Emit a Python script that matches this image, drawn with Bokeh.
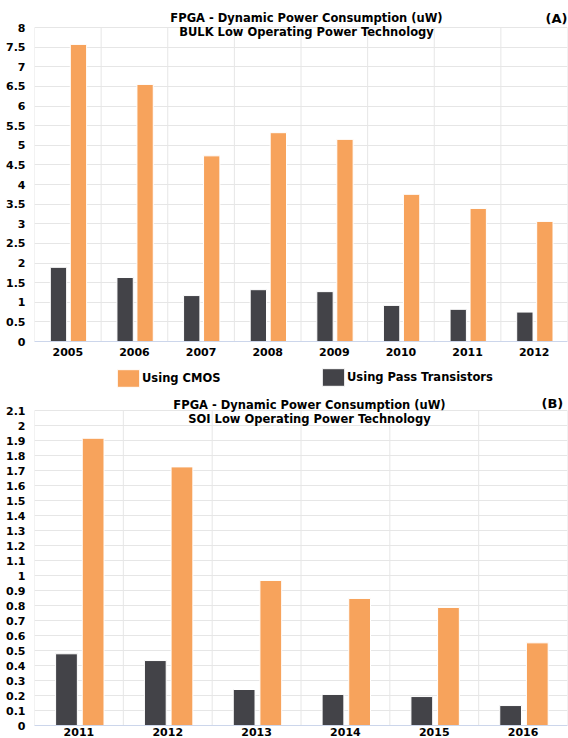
import numpy as np
from bokeh.plotting import figure
from bokeh.layouts import column
from bokeh.models import (Range1d, FixedTicker, NumeralTickFormatter, Label,
                          Legend, LegendItem, ColumnDataSource)
from bokeh.embed import file_html
from bokeh.resources import INLINE

# ---- data ----
years_a = ["2005", "2006", "2007", "2008", "2009", "2010", "2011", "2012"]
cmos_a = [7.57, 6.55, 4.73, 5.32, 5.15, 3.75, 3.39, 3.06]
pass_a = [1.89, 1.63, 1.17, 1.32, 1.27, 0.92, 0.82, 0.75]
yticks_a = [0, 0.5, 1, 1.5, 2, 2.5, 3, 3.5, 4, 4.5, 5, 5.5, 6, 6.5, 7, 7.5, 8]

years_b = ["2011", "2012", "2013", "2014", "2015", "2016"]
cmos_b = [1.915, 1.724, 0.967, 0.847, 0.787, 0.551]
pass_b = [0.478, 0.433, 0.24, 0.207, 0.193, 0.133]
yticks_b = [0, 0.1, 0.2, 0.3, 0.4, 0.5, 0.6, 0.7, 0.8, 0.9, 1, 1.1, 1.2,
            1.3, 1.4, 1.5, 1.6, 1.7, 1.8, 1.9, 2, 2.1]

title_main = "FPGA - Dynamic Power Consumption (uW)"
sub_a = "BULK Low Operating Power Technology"
sub_b = "SOI Low Operating Power Technology"
series_names = ["Using CMOS", "Using Pass Transistors"]

ORANGE = "#f7a35c"
DARK = "#434348"
GRID = "#e6e6e6"
FONT = "DejaVu Sans"
W = 568
LEFT = 34
RIGHT = 1


def text_style(size="11.5px"):
    return dict(text_font=FONT, text_font_style="bold", text_font_size=size,
                text_color="black", text_baseline="middle")


def make_fig(height, top_pad, years, cmos, pss, yticks, bbottom, standoff,
             title_px, tag_px, offs, sub, tag):
    """top_pad: pixels of frame above the highest tick (room for titles)."""
    n = len(years)
    plot_h = height - bbottom
    ytop = yticks[-1]
    yend = ytop * plot_h / (plot_h - top_pad)
    p = figure(width=W, height=height,
               x_range=Range1d(-0.5, n - 0.5), y_range=Range1d(0, yend),
               output_backend="svg", toolbar_location=None,
               min_border_left=LEFT, min_border_right=RIGHT,
               min_border_top=0, min_border_bottom=bbottom)
    p.outline_line_color = None

    # vertical grid lines between categories (stop at the top tick)
    bounds = [i - 0.5 for i in range(n + 1)]
    p.segment(x0=bounds, y0=[0] * (n + 1), x1=bounds, y1=[ytop] * (n + 1),
              line_color=GRID, line_width=1)

    src = ColumnDataSource(dict(xd=np.arange(n) - 0.14, xo=np.arange(n) + 0.16,
                                cmos=cmos, pss=pss))
    p.vbar(x="xd", top="pss", width=0.245, source=src,
           fill_color=DARK, line_color="white", line_width=1)
    p.vbar(x="xo", top="cmos", width=0.245, source=src,
           fill_color=ORANGE, line_color="white", line_width=1)

    p.xaxis.ticker = FixedTicker(ticks=list(range(n)))
    p.xaxis.major_label_overrides = {i: y for i, y in enumerate(years)}
    p.xaxis.axis_line_color = "#ccd6eb"
    p.xaxis.major_tick_line_color = None
    p.xaxis.minor_tick_line_color = None
    p.xaxis.major_label_standoff = standoff
    p.yaxis.ticker = FixedTicker(ticks=yticks)
    p.yaxis.formatter = NumeralTickFormatter(format="0.[0]")
    p.yaxis.axis_line_color = None
    p.yaxis.major_tick_line_color = None
    p.yaxis.minor_tick_line_color = None
    p.yaxis.major_label_standoff = 3
    for ax in (p.xaxis, p.yaxis):
        ax.major_label_text_font = FONT
        ax.major_label_text_font_style = "bold"
        ax.major_label_text_font_size = "11px"
        ax.major_label_text_color = "black"

    p.ygrid.grid_line_color = GRID
    p.xgrid.grid_line_color = None

    unit = (W - RIGHT - LEFT) / n

    def px2x(px):
        return (px - LEFT) / unit - 0.5

    o1, o2, o3 = offs
    p.add_layout(Label(x=px2x(title_px), y=ytop, y_offset=o1, text=title_main,
                       text_align="center", **text_style()))
    p.add_layout(Label(x=px2x(title_px), y=ytop, y_offset=o2, text=sub,
                       text_align="center", **text_style()))
    p.add_layout(Label(x=px2x(tag_px), y=ytop, y_offset=o3, text=tag,
                       text_align="left", **text_style("13px")))
    return p, src


pA, srcA = make_fig(362, 27, years_a, cmos_a, pass_a, yticks_a, 21, 0,
                    306, 545, (9.5, -4.5, 9), sub_a, "(A)")

# legend row
leg_fig = figure(width=W, height=30, x_range=Range1d(-0.5, len(years_a) - 0.5),
                 y_range=Range1d(0, 1), x_axis_type=None, y_axis_type=None,
                 output_backend="svg", toolbar_location=None,
                 min_border_left=LEFT, min_border_right=RIGHT,
                 min_border_top=0, min_border_bottom=0)
leg_fig.outline_line_color = None
r_c = leg_fig.vbar(x="xo", top="cmos", width=0.24, source=srcA, visible=False,
                   fill_color=ORANGE, line_color="white", line_width=1)
r_d = leg_fig.vbar(x="xd", top="pss", width=0.24, source=srcA, visible=False,
                   fill_color=DARK, line_color="white", line_width=1)
for rend, name, loc in ((r_c, series_names[0], (114 - LEFT, 3)),
                        (r_d, series_names[1], (319 - LEFT, 4))):
    leg = Legend(items=[LegendItem(label=name, renderers=[rend])], location=loc,
                 orientation="horizontal", padding=0, margin=0, spacing=0,
                 border_line_color=None, background_fill_alpha=0,
                 inactive_fill_alpha=0,
                 glyph_width=28, glyph_height=22, label_standoff=0,
                 label_text_font=FONT, label_text_font_style="bold",
                 label_text_font_size="11.5px", label_text_color="black")
    leg_fig.add_layout(leg, "center")

pB, srcB = make_fig(346, 18, years_b, cmos_b, pass_b, yticks_b, 13, -4,
                    309, 541, (6, -8, 7), sub_b, "(B)")

layout = column(pA, leg_fig, pB, spacing=0)
open("out.html", "w").write(file_html(layout, INLINE))
